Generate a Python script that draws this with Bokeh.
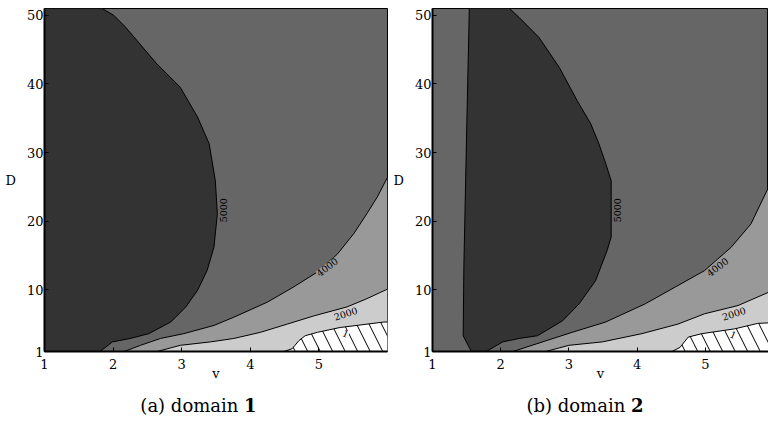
from bokeh.plotting import figure
from bokeh.models import FixedTicker, Label, Div
from bokeh.layouts import row, column
from bokeh.embed import file_html
from bokeh.resources import INLINE

# ---------------- data ----------------
V_TICKS = [1, 2, 3, 4, 5]
D_TICKS = [1, 10, 20, 30, 40, 50]
V_RANGE = (1, 6)
D_RANGE = (1, 51)

LEVEL_COLORS = {"5000+": "#333333", "4000": "#666666", "2000": "#999999", "1": "#cccccc", "<1": "#ffffff"}

# domain 1 contour lines (v, D)
A_5000_V = [1.84, 2.01, 2.18, 2.35, 2.64, 2.98, 3.23, 3.40, 3.49, 3.52, 3.47, 3.37, 3.23, 3.06, 2.84, 2.52, 2.25, 1.99, 1.81]
A_5000_D = [51.0, 50.0, 48.3, 46.3, 42.9, 39.5, 35.2, 31.3, 25.9, 21.1, 16.2, 12.8, 9.9, 7.5, 5.3, 3.6, 2.9, 2.4, 1.0]
A_4000_V = [2.16, 2.40, 2.69, 3.03, 3.47, 3.76, 4.25, 4.63, 4.98, 5.27, 5.51, 5.70, 5.85, 6.00]
A_4000_D = [1.0, 1.9, 2.9, 3.6, 4.8, 6.0, 8.2, 10.4, 12.6, 15.2, 18.2, 21.1, 23.5, 26.4]
A_2000_V = [2.64, 2.98, 3.42, 3.76, 4.15, 4.54, 4.93, 5.41, 5.70, 6.00]
A_2000_D = [1.0, 1.9, 2.4, 2.9, 3.8, 5.0, 6.2, 7.5, 8.7, 10.1]
A_1_V = [4.49, 4.61, 4.71, 4.80, 4.98, 5.31, 5.95, 6.00]
A_1_D = [1.0, 1.4, 2.6, 3.3, 3.8, 4.5, 5.3, 5.3]

# domain 2 contour lines (v, D)
B_5000_V = [1.54, 1.50, 1.46, 1.45, 1.57, 1.79, 2.03, 2.27, 2.54, 2.91, 3.15, 3.39, 3.56, 3.62, 3.62, 3.54, 3.44, 3.32, 3.12, 2.86, 2.56, 2.27, 2.13]
B_5000_D = [51.0, 32.7, 13.3, 3.3, 1.0, 1.0, 2.4, 2.9, 3.3, 5.5, 7.95, 11.3, 15.7, 17.7, 25.9, 28.4, 31.3, 34.2, 37.6, 42.4, 46.8, 49.7, 51.0]
B_4000_V = [2.18, 2.52, 3.05, 3.54, 4.12, 4.56, 4.99, 5.38, 5.67, 5.93, 6.00]
B_4000_D = [1.0, 2.1, 3.8, 5.3, 7.95, 10.4, 12.8, 16.2, 19.6, 25.0, 26.5]
B_2000_V = [2.66, 3.00, 3.49, 4.07, 4.60, 4.99, 5.48, 5.92, 6.00]
B_2000_D = [1.0, 1.9, 2.4, 3.6, 5.0, 6.5, 7.7, 9.6, 10.0]
B_1_V = [4.51, 4.63, 4.75, 4.95, 5.43, 5.77, 6.00]
B_1_D = [1.0, 1.6, 3.1, 3.6, 4.3, 5.1, 5.2]

# contour label texts
A_LABELS = [("5000", 3.61, 21.6, 1.5708), ("4000", 5.12, 13.3, 0.65), ("2000", 5.39, 6.5, 0.30), ("1", 5.39, 3.6, -0.40)]
B_LABELS = [("5000", 3.71, 21.6, 1.5708), ("4000", 5.18, 13.3, 0.65), ("2000", 5.42, 6.5, 0.30), ("1", 5.41, 3.4, -0.40)]
LABEL_BG = {"5000": "#666666", "4000": "#999999", "2000": "#cccccc", "1": "#ffffff"}

CAPTIONS = [("(a) domain", "1"), ("(b) domain", "2")]
X_LABEL = "v"
Y_LABEL = "D"

SERIF = "DejaVu Serif"
FIG_H = 392


def make_panel(width, border_left, border_right, x_end, dark_v, dark_d, dark_closed,
               c4_v, c4_d, c2_v, c2_d, c1_v, c1_d, labels):
    p = figure(width=width, height=FIG_H, x_range=(V_RANGE[0], x_end), y_range=D_RANGE,
               output_backend="svg", toolbar_location=None,
               min_border_left=border_left, min_border_right=border_right,
               min_border_top=8, min_border_bottom=FIG_H - 351)
    p.background_fill_color = LEVEL_COLORS["4000"]
    p.border_fill_color = "white"
    p.outline_line_color = "black"
    p.outline_line_width = 1
    p.xgrid.visible = False
    p.ygrid.visible = False

    # dark region (> 5000)
    if dark_closed:
        xs, ys = list(dark_v), list(dark_d)
    else:
        xs = [V_RANGE[0], V_RANGE[0]] + list(dark_v)
        ys = [D_RANGE[0], D_RANGE[1]] + list(dark_d)
    p.patch(xs, ys, fill_color=LEVEL_COLORS["5000+"], line_color=None)
    # region below 4000
    p.patch(list(c4_v) + [V_RANGE[1]], list(c4_d) + [D_RANGE[0]], fill_color=LEVEL_COLORS["2000"], line_color=None)
    # region below 2000
    p.patch(list(c2_v) + [V_RANGE[1]], list(c2_d) + [D_RANGE[0]], fill_color=LEVEL_COLORS["1"], line_color=None)
    # region below 1 (hatched)
    p.patch(list(c1_v) + [V_RANGE[1]], list(c1_d) + [D_RANGE[0]], fill_color="white", line_color=None,
            hatch_pattern="left_diagonal_line", hatch_color="black", hatch_scale=25, hatch_weight=1)

    # contour lines
    p.line(list(dark_v), list(dark_d), line_color="black", line_width=1)
    p.line(list(c4_v), list(c4_d), line_color="black", line_width=1)
    p.line(list(c2_v), list(c2_d), line_color="black", line_width=1)
    p.line(list(c1_v), list(c1_d), line_color="black", line_width=1)

    for txt, lx, ly, ang in labels:
        p.add_layout(Label(x=lx, y=ly, text=txt, angle=ang, text_align="center", text_baseline="middle",
                           text_font=SERIF, text_font_size="9.5px", text_color="black",
                           background_fill_color=LABEL_BG[txt]))

    # axes
    for ax in (p.xaxis[0], p.yaxis[0]):
        ax.axis_line_width = 2
        ax.axis_line_color = "black"
        ax.major_tick_in = 4
        ax.major_tick_out = 0
        ax.minor_tick_line_color = None
        ax.major_label_text_font = SERIF
        ax.major_label_text_font_size = "13px"
        ax.major_label_text_color = "black"
        ax.axis_label_text_font = SERIF
        ax.axis_label_text_font_size = "13px"
        ax.axis_label_text_font_style = "normal"
        ax.axis_label_text_color = "black"
    p.xaxis.ticker = FixedTicker(ticks=V_TICKS)
    p.yaxis.ticker = FixedTicker(ticks=D_TICKS)
    p.xaxis.major_label_standoff = 7
    p.yaxis.major_label_standoff = 1
    p.xaxis.axis_label = X_LABEL
    p.xaxis.axis_label_standoff = -6
    p.yaxis.axis_label = Y_LABEL
    p.yaxis.axis_label_standoff = 8
    yax = p.yaxis[0]
    if "axis_label_orientation" in yax.properties():
        yax.axis_label_orientation = "horizontal"
    return p


p1 = make_panel(390, 44, 3, V_RANGE[1], A_5000_V, A_5000_D, False,
                A_4000_V, A_4000_D, A_2000_V, A_2000_D, A_1_V, A_1_D, A_LABELS)
p2 = make_panel(378, 40, 0, 1 + 338 / 68.6, B_5000_V, B_5000_D, True,
                B_4000_V, B_4000_D, B_2000_V, B_2000_D, B_1_V, B_1_D, B_LABELS)


def caption(text, num, width, pad_left):
    return Div(text=f"{text} <b>{num}</b>", width=width, height=422 - FIG_H, margin=0,
               styles={"font-family": SERIF, "font-size": "18px", "line-height": "27px",
                       "text-align": "center", "color": "black", "padding-left": f"{pad_left}px",
                       "box-sizing": "border-box", "white-space": "nowrap"})


d1 = caption(CAPTIONS[0][0], CAPTIONS[0][1], 390, 7)
d2 = caption(CAPTIONS[1][0], CAPTIONS[1][1], 378, 12)

layout = column(row(p1, p2, spacing=0), row(d1, d2, spacing=0), spacing=0)
open("out.html", "w").write(file_html(layout, INLINE))
